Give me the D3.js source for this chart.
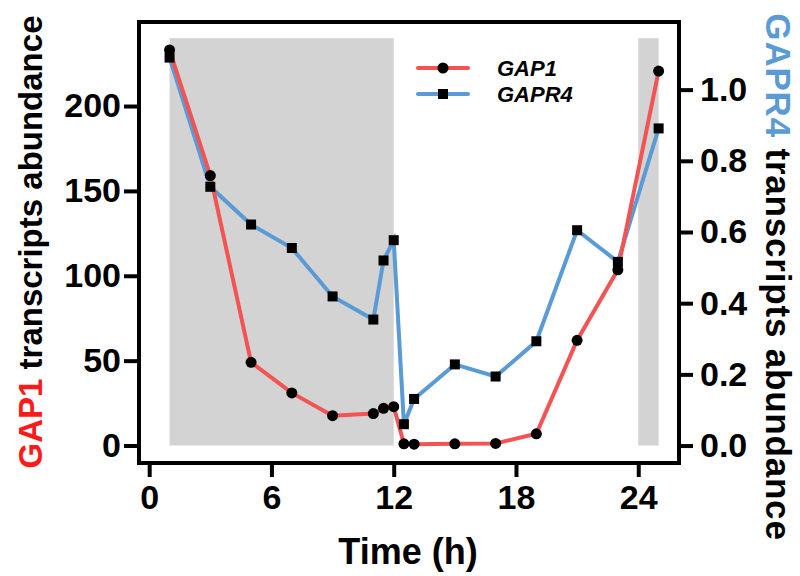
<!DOCTYPE html>
<html>
<head>
<meta charset="utf-8">
<script src="https://cdn.jsdelivr.net/npm/d3@7"></script>
<style>
  body { margin: 0; background: #fff; }
  #chart text { font-family: "Liberation Sans", Arial, sans-serif; font-weight: bold; }
</style>
</head>
<body>
<div id="chart"></div>
<script>
// time points (h)
const hours = [1, 3, 5, 7, 9, 11, 11.5, 12, 12.5, 13, 15, 17, 19, 21, 23, 25];
// GAP1 abundance (left axis)
const gap1 = [233, 159, 49, 31, 17.6, 18.8, 21.9, 22.9, 1, 0.8, 1, 1.2, 6.9, 62, 103.5, 220.6];
// GAPR4 abundance (right axis)
const gapr4 = [1.09, 0.727, 0.621, 0.555, 0.419, 0.354, 0.52, 0.577, 0.06, 0.131, 0.228, 0.194, 0.293, 0.605, 0.516, 0.891];
// dark periods (shaded)
const darkStart = [1, 24];
const darkEnd = [12, 25];
const bandTop = 240;

const xTicks = [0, 6, 12, 18, 24];
const yLeftTicks = [0, 50, 100, 150, 200];
const yRightTicks = [0, 0.2, 0.4, 0.6, 0.8, 1.0];

const W = 800, H = 576;
const box = { left: 139, right: 679, top: 22, bottom: 463 };
const red = "#f45353", blue = "#5b9bd5";

const svg = d3.select("#chart").append("svg")
    .attr("width", W)
    .attr("height", H);

const x = d3.scaleLinear().domain([-0.5, 26]).range([box.left, box.right]);
const yL = d3.scaleLinear().domain([-10.3, 249.5]).range([box.bottom, box.top]);
const yR = d3.scaleLinear().domain([-0.049, 1.19]).range([box.bottom, box.top]);

// shaded dark periods
svg.append("g").selectAll("rect")
    .data(darkStart.map((s, i) => ({ s, e: darkEnd[i] })))
    .join("rect")
    .attr("x", d => x(d.s))
    .attr("width", d => x(d.e) - x(d.s))
    .attr("y", yL(bandTop))
    .attr("height", yL(0) - yL(bandTop))
    .attr("fill", "#d3d3d3");

// axes
function styleAxis(g) {
    g.select(".domain").remove();
    g.selectAll(".tick line").attr("stroke", "#000").attr("stroke-width", 4);
    g.selectAll(".tick text").attr("fill", "#000").style("font-size", "34px");
}

svg.append("g")
    .attr("transform", `translate(${box.left},0)`)
    .call(d3.axisLeft(yL).tickValues(yLeftTicks).tickSize(15).tickPadding(3).tickFormat(d3.format("d")))
    .call(styleAxis);

svg.append("g")
    .attr("transform", `translate(${box.right},0)`)
    .call(d3.axisRight(yR).tickValues(yRightTicks).tickSize(14).tickPadding(7).tickFormat(d3.format(".1f")))
    .call(styleAxis);

svg.append("g")
    .attr("transform", `translate(0,${box.bottom})`)
    .call(d3.axisBottom(x).tickValues(xTicks).tickSize(14).tickPadding(8).tickFormat(d3.format("d")))
    .call(styleAxis);

// frame
svg.append("rect")
    .attr("x", box.left)
    .attr("y", box.top)
    .attr("width", box.right - box.left)
    .attr("height", box.bottom - box.top)
    .attr("fill", "none")
    .attr("stroke", "#000")
    .attr("stroke-width", 4);

// lines
const lineR = d3.line().x((d, i) => x(hours[i])).y(d => yR(d));
const lineL = d3.line().x((d, i) => x(hours[i])).y(d => yL(d));

svg.append("path")
    .datum(gapr4)
    .attr("d", lineR)
    .attr("fill", "none")
    .attr("stroke", blue)
    .attr("stroke-width", 4);

svg.append("path")
    .datum(gap1)
    .attr("d", lineL)
    .attr("fill", "none")
    .attr("stroke", red)
    .attr("stroke-width", 4);

svg.append("g").selectAll("rect")
    .data(gapr4)
    .join("rect")
    .attr("x", (d, i) => x(hours[i]) - 5)
    .attr("y", d => yR(d) - 5)
    .attr("width", 10)
    .attr("height", 10)
    .attr("fill", "#000");

svg.append("g").selectAll("circle")
    .data(gap1)
    .join("circle")
    .attr("cx", (d, i) => x(hours[i]))
    .attr("cy", d => yL(d))
    .attr("r", 5.5)
    .attr("fill", "#000");

// legend
const legend = svg.append("g").attr("transform", "translate(418,68)");
const items = [
    { name: "GAP1", color: red, shape: "circle" },
    { name: "GAPR4", color: blue, shape: "square" }
];
items.forEach((it, i) => {
    const g = legend.append("g").attr("transform", `translate(0,${i * 26})`);
    g.append("line")
        .attr("x1", 0).attr("x2", 50)
        .attr("stroke", it.color).attr("stroke-width", 4).attr("stroke-linecap", "round");
    if (it.shape === "circle") {
        g.append("circle").attr("cx", 25).attr("r", 5.5).attr("fill", "#000");
    } else {
        g.append("rect").attr("x", 20).attr("y", -5).attr("width", 10).attr("height", 10).attr("fill", "#000");
    }
    g.append("text")
        .attr("x", 79).attr("y", 8)
        .style("font-size", "22px")
        .style("font-style", "italic")
        .text(it.name);
});

// axis titles
svg.append("text")
    .attr("x", (box.left + box.right) / 2 - 1)
    .attr("y", 564)
    .attr("text-anchor", "middle")
    .style("font-size", "36px")
    .text("Time (h)");

const lt = svg.append("text")
    .attr("transform", "translate(42,242) rotate(-90)")
    .attr("text-anchor", "middle")
    .style("font-size", "33px");
lt.append("tspan").attr("fill", "#ff1a1a").text("GAP1");
lt.append("tspan").attr("fill", "#000").text(" transcripts abundance");

const rt = svg.append("text")
    .attr("transform", "translate(766,277) rotate(90)")
    .attr("text-anchor", "middle")
    .style("font-size", "35px")
    .style("letter-spacing", "0.8px");
rt.append("tspan").attr("fill", blue).text("GAPR4");
rt.append("tspan").attr("fill", "#000").text(" transcripts abundance");
</script>
</body>
</html>
